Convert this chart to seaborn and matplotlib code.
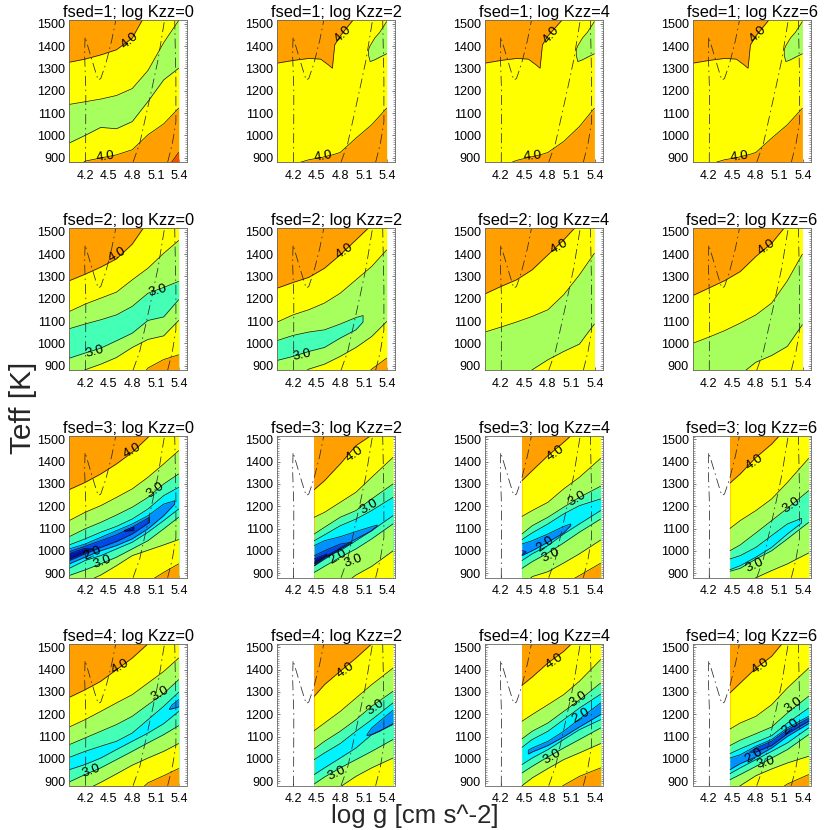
import numpy as np
import matplotlib
matplotlib.use("Agg")
import matplotlib.pyplot as plt
from matplotlib.ticker import MultipleLocator, FixedLocator
import seaborn as sns

# ---- shared axes values ------------------------------------------------
LOGG_A = [4.0, 4.2, 4.4, 4.6, 4.8, 5.0, 5.2, 5.39]
LOGG_B = [4.47, 4.6, 4.8, 5.0, 5.2, 5.47]
LOGG_C = [4.0, 4.2, 4.4, 4.55, 4.65, 4.7, 4.73, 4.8, 5.0, 5.2, 5.39]
x_ticks = [4.2, 4.5, 4.8, 5.1, 5.4]
y_ticks = [900, 1000, 1100, 1200, 1300, 1400, 1500]
fsed_values = [1, 2, 3, 4]
kzz_values = [0, 2, 4, 6]

# dash-dot tracks: logg, Teff
track_a_logg = [4.207, 4.21, 4.195, 4.2, 4.32, 4.367, 4.40, 4.465, 4.54, 4.59]
track_a_teff = [880, 1200, 1360, 1442, 1300, 1248, 1255, 1322, 1427, 1515]
track_b_logg = [4.81, 4.895, 4.98, 5.055, 5.127, 5.21]
track_b_teff = [880, 964, 1098, 1218, 1337, 1515]
track_c_logg = [5.25, 5.31, 5.355, 5.355, 5.34]
track_c_teff = [880, 964, 1060, 1250, 1515]

# ---- band values (cloud-parameter level mid points) top to bottom, and the
#      Teff where each contour crosses the logg nodes --------------------
f1k0_bands = [4.25, 3.75, 3.25, 3.75, 4.25, 4.75]
f1k0_curves = [[1328, 1342, 1361, 1384, 1436, 1563, 1700, 1800],
               [1139, 1151, 1163, 1179, 1210, 1291, 1416, 1515],
               [966, 1000, 1036, 1030, 1062, 1152, 1249, 1301],
               [820, 885, 899, 913, 936, 1003, 1052, 1122],
               [650, 700, 740, 770, 790, 810, 830, 924]]
f1k0_islands = []
f1k0_labels = [(4.77, 1425, "4.0", 40), (4.46, 906, "4.0", 8)]

f1k2_bands = [4.25, 3.75, 4.25]
f1k2_curves = [[1324, 1336, 1345, 1342, 1316, 1301, 1406, 1446, 1533, 1650, 1750],
               [830, 870, 891, 900, 909, 913, 916, 924, 988, 1048, 1122]]
f1k2_islands = [(3.25, [5.16, 5.18, 5.24, 5.3, 5.39],
                 [1384, 1402, 1437, 1461, 1510], [1360, 1331, 1339, 1350, 1366])]
f1k2_labels = [(4.835, 1451, "4.0", 45), (4.59, 906, "4.0", 10)]

f1k4_bands = [4.25, 3.75, 4.25]
f1k4_curves = [[1324, 1336, 1345, 1342, 1316, 1301, 1406, 1446, 1525, 1650, 1750],
               [800, 860, 888, 901, 909, 913, 916, 924, 973, 1040, 1122]]
f1k4_islands = f1k2_islands
f1k4_labels = [(4.84, 1451, "4.0", 50), (4.6, 906, "4.0", 5)]

f1k6_bands = [4.25, 3.75, 4.25]
f1k6_curves = f1k2_curves
f1k6_islands = f1k2_islands
f1k6_labels = [(4.83, 1451, "4.0", 45), (4.595, 906, "4.0", 8)]

f2k0_bands = [4.25, 3.75, 3.25, 2.75, 3.25, 3.75, 4.25]
f2k0_curves = [[1281, 1310, 1342, 1379, 1445, 1547, 1650, 1750],
               [1143, 1176, 1203, 1230, 1285, 1337, 1404, 1461],
               [1066, 1087, 1106, 1128, 1166, 1225, 1251, 1278],
               [934, 957, 979, 1012, 1046, 1103, 1119, 1196],
               [850, 882, 907, 937, 982, 1018, 1034, 1103],
               [650, 700, 740, 770, 800, 890, 928, 949]]
f2k0_islands = []
f2k0_labels = [(4.61, 1397, "4.0", 30), (5.127, 1237, "3.0", 15), (4.32, 964, "3.0", 15)]

f2k2_bands = [4.25, 3.75, 3.25, 3.75, 4.25]
f2k2_curves = [[1248, 1273, 1296, 1337, 1397, 1464, 1531, 1640],
               [1096, 1128, 1151, 1181, 1225, 1285, 1345, 1419],
               [790, 840, 885, 907, 942, 982, 1031, 1098],
               [650, 700, 740, 770, 790, 820, 885, 934]]
f2k2_islands = [(2.75, [4.0, 4.2, 4.4, 4.6, 4.8, 5.0, 5.09],
                 [1013, 1036, 1051, 1061, 1087, 1116, 1125],
                 [924, 942, 964, 982, 1024, 1061, 1096])]
f2k2_labels = [(4.857, 1412, "4.0", 35), (4.316, 949, "3.0", 12)]

f2k4_bands = [4.25, 3.75, 3.25, 3.75]
f2k4_curves = [[1222, 1255, 1285, 1330, 1397, 1464, 1540, 1640],
               [1051, 1073, 1096, 1121, 1151, 1218, 1307, 1404],
               [700, 760, 820, 882, 927, 964, 997, 1087]]
f2k4_islands = []
f2k4_labels = [(4.94, 1434, "4.0", 30)]

f2k6_bands = [4.25, 3.75, 3.25, 3.75]
f2k6_curves = [[1215, 1248, 1281, 1322, 1390, 1449, 1535, 1640],
               [1001, 1028, 1057, 1091, 1128, 1181, 1281, 1400],
               [650, 730, 800, 860, 916, 946, 987, 1084]]
f2k6_islands = []
f2k6_labels = [(4.94, 1430, "4.0", 35)]

f3k0_bands = [4.25, 3.75, 3.25, 2.75, 2.25, 2.75, 3.25, 3.75, 4.25]
f3k0_curves = [[1275, 1307, 1345, 1390, 1442, 1509, 1580, 1680],
               [1136, 1173, 1203, 1240, 1278, 1330, 1390, 1449],
               [1064, 1099, 1128, 1161, 1196, 1240, 1300, 1345],
               [1027, 1054, 1084, 1110, 1143, 1188, 1248, 1285],
               [922, 957, 979, 1009, 1039, 1084, 1136, 1188],
               [890, 915, 942, 972, 1009, 1046, 1099, 1151],
               [810, 860, 892, 934, 979, 1003, 1027, 1051],
               [650, 700, 740, 770, 810, 860, 904, 942]]
f3k0_islands = [(1.75, [4.0, 4.2, 4.4, 4.6, 4.8, 5.0, 5.2, 5.34],
                 [1009, 1031, 1061, 1091, 1121, 1158, 1210, 1225],
                 [942, 972, 1001, 1024, 1054, 1099, 1158, 1210]),
                (1.25, [4.0, 4.2, 4.4, 4.6, 4.8, 5.02],
                 [997, 1021, 1046, 1072, 1106, 1151],
                 [957, 987, 1016, 1042, 1076, 1128]),
                (0.75, [4.0, 4.2, 4.3], [987, 1012, 1009], [964, 994, 1009]),
                (0.75, [4.7, 4.82], [1092, 1108], [1088, 1092])]
f3k0_labels = [(4.80, 1449, "4.0", 30), (5.09, 1270, "3.0", 35),
               (4.30, 991, "2.0", 25), (4.42, 952, "3.0", 20)]

f3k2_bands = [4.25, 3.75, 3.25, 2.75, 2.25, 2.75, 3.25, 3.75]
f3k2_curves = [[1275, 1315, 1390, 1472, 1519, 1620],
               [1151, 1173, 1218, 1263, 1330, 1419],
               [1076, 1106, 1151, 1181, 1233, 1300],
               [1046, 1072, 1113, 1143, 1181, 1240],
               [934, 972, 1001, 1046, 1091, 1158],
               [904, 931, 972, 1009, 1054, 1121],
               [760, 790, 840, 892, 931, 1000]]
f3k2_islands = [(1.75, [4.47, 4.6, 4.8, 5.0, 5.2, 5.27],
                 [1024, 1046, 1064, 1087, 1109, 1116],
                 [949, 972, 1013, 1054, 1091, 1113]),
                (1.25, [4.47, 4.6, 4.8, 4.95],
                 [979, 1001, 1031, 1039], [934, 964, 1009, 1036]),
                (0.75, [4.47, 4.63], [964, 987], [942, 982])]
f3k2_labels = [(4.98, 1434, "4.0", 35), (5.17, 1200, "3.0", 30),
               (4.77, 975, "2.0", 30), (4.96, 957, "3.0", 20)]

f3k4_bands = [4.25, 3.75, 3.25, 2.75, 2.25, 2.75, 3.25, 3.75, 4.25]
f3k4_curves = [[1315, 1360, 1427, 1487, 1550, 1640],
               [1155, 1181, 1218, 1278, 1330, 1415],
               [1076, 1113, 1151, 1196, 1240, 1290],
               [1051, 1081, 1121, 1166, 1203, 1233],
               [957, 987, 1024, 1076, 1121, 1181],
               [922, 952, 991, 1036, 1084, 1143],
               [840, 885, 907, 946, 987, 1049],
               [750, 770, 800, 850, 890, 945]]
f3k4_islands = [(1.75, [4.47, 4.6, 4.8, 5.0, 5.09],
                 [1031, 1046, 1076, 1110, 1121], [979, 1001, 1039, 1081, 1113]),
                (1.25, [4.47, 4.52], [1001, 998], [984, 994])]
f3k4_labels = [(4.895, 1439, "4.0", 35), (5.17, 1233, "3.0", 30),
               (4.76, 1031, "2.0", 35), (4.83, 982, "3.0", 25)]

f3k6_bands = [4.25, 3.75, 3.25, 2.75, 3.25, 3.75]
f3k6_curves = [[1304, 1345, 1419, 1479, 1555, 1650],
               [1101, 1136, 1181, 1233, 1307, 1415],
               [1001, 1027, 1081, 1136, 1191, 1270],
               [909, 922, 964, 1001, 1054, 1128],
               [810, 840, 880, 912, 942, 991]]
f3k6_islands = [(2.25, [4.47, 4.6, 4.8, 5.0, 5.2, 5.38],
                 [964, 979, 1016, 1069, 1121, 1146],
                 [916, 934, 972, 1016, 1076, 1125])]
f3k6_labels = [(4.785, 1397, "4.0", 35), (5.25, 1203, "3.0", 35), (4.785, 934, "3.0", 25)]

f4k0_bands = [4.25, 3.75, 3.25, 2.75, 2.25, 2.75, 3.25, 3.75, 4.25]
f4k0_curves = [[1276, 1310, 1348, 1400, 1452, 1516, 1590, 1690],
               [1143, 1176, 1213, 1251, 1288, 1340, 1392, 1452],
               [1064, 1094, 1124, 1154, 1191, 1243, 1293, 1355],
               [1007, 1034, 1057, 1079, 1116, 1176, 1236, 1299],
               [952, 975, 1004, 1042, 1079, 1116, 1158, 1213],
               [897, 930, 960, 997, 1034, 1072, 1109, 1149],
               [810, 860, 895, 933, 972, 1004, 1034, 1069],
               [650, 700, 740, 780, 830, 893, 925, 957]]
f4k0_islands = [(1.75, [5.27, 5.3, 5.39], [1222, 1240, 1266], [1222, 1224, 1233])]
f4k0_labels = [(4.65, 1412, "4.0", 30), (5.16, 1293, "3.0", 30), (4.28, 948, "3.0", 20)]

f4k2_bands = [4.25, 3.75, 3.25, 2.75, 2.25, 2.75, 3.25, 3.75]
f4k2_curves = [[1281, 1333, 1393, 1452, 1516, 1640],
               [1127, 1161, 1213, 1273, 1333, 1407],
               [1045, 1079, 1124, 1176, 1236, 1303],
               [997, 1027, 1069, 1124, 1176, 1251],
               [930, 960, 1004, 1049, 1109, 1154],
               [888, 919, 960, 997, 1034, 1087],
               [800, 835, 875, 922, 960, 1004]]
f4k2_islands = [(1.75, [5.14, 5.2, 5.3, 5.47], [1109, 1139, 1169, 1218], [1105, 1109, 1124, 1158])]
f4k2_labels = [(4.865, 1397, "4.0", 35), (5.245, 1233, "3.0", 35), (4.76, 934, "3.0", 25)]

f4k4_bands = [4.25, 3.75, 3.25, 2.75, 2.25, 2.75, 3.25, 3.75, 4.25]
f4k4_curves = [[1330, 1367, 1430, 1482, 1550, 1650],
               [1169, 1199, 1243, 1288, 1348, 1445],
               [1090, 1124, 1161, 1213, 1264, 1340],
               [1052, 1087, 1124, 1176, 1228, 1290],
               [975, 1004, 1042, 1087, 1131, 1176],
               [937, 967, 1009, 1049, 1087, 1139],
               [880, 915, 957, 997, 1027, 1069],
               [760, 790, 830, 882, 922, 960]]
f4k4_islands = [(1.75, [4.55, 4.6, 4.8, 5.0, 5.2, 5.47],
                 [1039, 1049, 1079, 1124, 1179, 1251],
                 [1022, 1031, 1060, 1099, 1143, 1199])]
f4k4_labels = [(4.886, 1437, "4.0", 35), (5.19, 1266, "3.0", 35),
               (5.22, 1194, "2.0", 30), (4.85, 1009, "3.0", 30)]

f4k6_bands = [4.25, 3.75, 3.25, 2.75, 2.25, 2.75, 3.25, 3.75, 4.25]
f4k6_curves = [[1296, 1340, 1407, 1460, 1545, 1650],
               [1134, 1161, 1191, 1243, 1318, 1407],
               [1060, 1084, 1113, 1143, 1206, 1281],
               [1024, 1045, 1075, 1104, 1161, 1228],
               [934, 960, 997, 1034, 1072, 1139],
               [907, 930, 967, 1004, 1042, 1109],
               [840, 880, 925, 955, 982, 1012],
               [740, 770, 800, 840, 888, 930]]
f4k6_islands = [(1.75, [4.47, 4.6, 4.8, 5.0, 5.2, 5.47],
                 [1004, 1019, 1057, 1087, 1139, 1191],
                 [952, 979, 1009, 1049, 1101, 1158]),
                (1.25, [4.72, 4.8, 5.0, 5.2, 5.47],
                 [1030, 1049, 1079, 1131, 1182], [1030, 1031, 1060, 1113, 1169])]
f4k6_labels = [(4.86, 1415, "4.0", 35), (5.28, 1239, "3.0", 35), (5.236, 1143, "2.0", 40),
               (4.776, 1012, "2.0", 30), (4.92, 985, "3.0", 15)]

# ---- styles ------------------------------------------------------------
BAND_COLORS = {4.75: "#ff4a00", 4.25: "#ffa000", 3.75: "#ffff00", 3.25: "#a6ff5c",
               2.75: "#44ffb6", 2.25: "#00f4ff", 1.75: "#0090ff", 1.25: "#0048e8",
               0.75: "#0010b0"}

PANELS = [
    [(LOGG_A, f1k0_bands, f1k0_curves, f1k0_islands, f1k0_labels),
     (LOGG_C, f1k2_bands, f1k2_curves, f1k2_islands, f1k2_labels),
     (LOGG_C, f1k4_bands, f1k4_curves, f1k4_islands, f1k4_labels),
     (LOGG_C, f1k6_bands, f1k6_curves, f1k6_islands, f1k6_labels)],
    [(LOGG_A, f2k0_bands, f2k0_curves, f2k0_islands, f2k0_labels),
     (LOGG_A, f2k2_bands, f2k2_curves, f2k2_islands, f2k2_labels),
     (LOGG_A, f2k4_bands, f2k4_curves, f2k4_islands, f2k4_labels),
     (LOGG_A, f2k6_bands, f2k6_curves, f2k6_islands, f2k6_labels)],
    [(LOGG_A, f3k0_bands, f3k0_curves, f3k0_islands, f3k0_labels),
     (LOGG_B, f3k2_bands, f3k2_curves, f3k2_islands, f3k2_labels),
     (LOGG_B, f3k4_bands, f3k4_curves, f3k4_islands, f3k4_labels),
     (LOGG_B, f3k6_bands, f3k6_curves, f3k6_islands, f3k6_labels)],
    [(LOGG_A, f4k0_bands, f4k0_curves, f4k0_islands, f4k0_labels),
     (LOGG_B, f4k2_bands, f4k2_curves, f4k2_islands, f4k2_labels),
     (LOGG_B, f4k4_bands, f4k4_curves, f4k4_islands, f4k4_labels),
     (LOGG_B, f4k6_bands, f4k6_curves, f4k6_islands, f4k6_labels)],
]

COL_LEFT = [69.3, 277.3, 485.0, 693.0]
ROW_TOP = [20.5, 228.5, 436.0, 644.0]
AX_W, AX_H = 118.0, 141.5
XLIM = (4.0, 5.5)
YLIM = (881, 1515)
W = H = 830.0

sns.set_style("ticks")
plt.rcParams["font.family"] = ["Liberation Sans", "DejaVu Sans"]
plt.rcParams["axes.unicode_minus"] = False

fig = plt.figure(figsize=(8.3, 8.3), dpi=100, facecolor="white")


def line(ax, xs, ys, color="#111111", **kw):
    sns.lineplot(x=list(xs), y=list(ys), ax=ax, estimator=None, sort=False,
                 legend=False, errorbar=None, color=color, **kw)


for r, fsed in enumerate(fsed_values):
    for c, kzz in enumerate(kzz_values):
        nodes, bands, curves, islands, labels = PANELS[r][c]
        ax = fig.add_axes([COL_LEFT[c] / W, 1 - (ROW_TOP[r] + AX_H) / H, AX_W / W, AX_H / H])
        xfine = np.linspace(nodes[0], nodes[-1], 300)
        ax.fill_between(xfine, YLIM[0], YLIM[1], color=BAND_COLORS[bands[0]], lw=0)
        for band, curve in zip(bands[1:], curves):
            ax.fill_between(xfine, YLIM[0], np.interp(xfine, nodes, curve),
                            color=BAND_COLORS[band], lw=0)
        for curve in curves:
            line(ax, nodes, curve, lw=0.5)
        for value, inodes, upper, lower in islands:
            xi = np.linspace(inodes[0], inodes[-1], 120)
            ax.fill_between(xi, np.interp(xi, inodes, lower), np.interp(xi, inodes, upper),
                            color=BAND_COLORS[value], lw=0)
            px = list(inodes)
            py = list(upper)
            if inodes[-1] < nodes[-1] - 1e-6:
                px += list(inodes[::-1])
                py += list(lower[::-1])
                if inodes[0] > nodes[0] + 1e-6:
                    px.append(inodes[0])
                    py.append(upper[0])
                line(ax, px, py, lw=0.5)
            else:
                if inodes[0] > nodes[0] + 1e-6:
                    px = list(inodes[::-1]) + list(inodes)
                    py = list(upper[::-1]) + list(lower)
                    line(ax, px, py, lw=0.5)
                else:
                    line(ax, inodes, upper, lw=0.5)
                    line(ax, inodes, lower, lw=0.5)
        dash = (0, (13, 5, 2, 5))
        for tx, ty in [(track_a_logg, track_a_teff), (track_b_logg, track_b_teff),
                       (track_c_logg, track_c_teff)]:
            line(ax, tx, ty, color="#2a2a2a", lw=0.55, linestyle=dash)
        for lx, ly, txt, rot in labels:
            ax.text(lx, ly, txt, fontsize=9.6, rotation=rot, rotation_mode="anchor",
                    ha="center", va="center", color="black")
        ax.set(xlim=XLIM, ylim=YLIM, xlabel="", ylabel="")
        ax.xaxis.set_major_locator(FixedLocator(x_ticks))
        ax.set_xticklabels([f"{t:.1f}" for t in x_ticks])
        ax.yaxis.set_major_locator(FixedLocator(y_ticks))
        ax.yaxis.set_minor_locator(MultipleLocator(10))
        ax.tick_params(axis="both", which="major", direction="in", length=2.0, width=0.5,
                       color="#444444", labelsize=9.1, pad=3, top=False, right=True,
                       labelcolor="black")
        ax.tick_params(axis="x", which="major", pad=5.5)
        ax.tick_params(axis="y", which="minor", direction="in", length=1.4, width=0.4,
                       color="#555555", left=True, right=True)
        for s in ax.spines.values():
            s.set_linewidth(0.6)
            s.set_color("#666666")
        ax.set_title(f"fsed={fsed}; log Kzz={kzz}", fontsize=11.8, pad=2.5, color="black")

fig.text(23 / W, 1 - 408 / H, "Teff [K]", rotation=90, fontsize=21.5, ha="center", va="center")
fig.text(415 / W, 1 - 816 / H, "log g [cm s^-2]", fontsize=18.6, ha="center", va="center")
fig.savefig("out.png", dpi=100)
